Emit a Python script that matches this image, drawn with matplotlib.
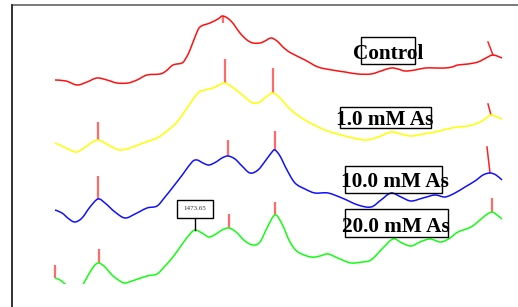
import numpy as np
import matplotlib
matplotlib.use("Agg")
import matplotlib.pyplot as plt
from matplotlib.patches import Rectangle, PathPatch
from matplotlib.path import Path

# wavenumber (cm-1) / intensity (a.u., traces already offset)
red_x = [1194, 1216, 1238, 1258, 1278, 1298, 1318, 1340, 1358, 1378, 1404, 1416, 1430, 1448, 1456, 1464,
         1474, 1484, 1504, 1520, 1530, 1546, 1564, 1578, 1590, 1604, 1614, 1626, 1638, 1652, 1666, 1694,
         1720, 1748, 1774, 1800, 1826, 1846, 1866, 1880, 1894, 1914, 1934, 1954, 1974, 1988, 2000, 2020,
         2040, 2056, 2070, 2088]
red_y = [220, 219, 215, 218, 222, 220, 217, 217, 220, 225, 226, 229, 235, 237, 242, 250,
         263, 273, 277, 281, 284, 279, 267, 260, 257, 257, 259, 262, 259, 252, 247, 240,
         233, 230, 228, 226, 226, 229, 232, 231, 229, 230, 232, 232, 232, 233, 235, 236,
         238, 242, 245, 242]

yel_x = [1194, 1208, 1224, 1238, 1252, 1266, 1280, 1294, 1308, 1324, 1344, 1370, 1398, 1418, 1438, 1458,
         1480, 1494, 1510, 1522, 1534, 1548, 1564, 1578, 1590, 1604, 1616, 1630, 1644, 1666, 1694, 1734,
         1774, 1814, 1840, 1866, 1886, 1906, 1930, 1954, 1978, 2000, 2020, 2040, 2054, 2066, 2078, 2088]
yel_y = [157, 154, 150, 148, 152, 157, 160, 157, 153, 150, 152, 157, 162, 169, 178, 192,
         207, 210, 212, 215, 217, 213, 207, 201, 197, 198, 203, 207, 202, 190, 180, 170,
         164, 160, 163, 168, 166, 164, 166, 168, 171, 173, 174, 177, 181, 185, 183, 181]

blu_x = [1194, 1208, 1222, 1234, 1248, 1264, 1280, 1294, 1314, 1334, 1354, 1378, 1398, 1414, 1430, 1450,
         1468, 1478, 1490, 1502, 1516, 1528, 1540, 1554, 1568, 1584, 1600, 1616, 1628, 1634, 1644, 1658,
         1674, 1694, 1714, 1740, 1768, 1800, 1826, 1846, 1866, 1886, 1906, 1930, 1954, 1974, 1994, 2014,
         2034, 2050, 2064, 2076, 2088]
blu_y = [90, 87, 81, 78, 82, 93, 101, 97, 88, 82, 86, 92, 94, 103, 113, 126,
         138, 140, 137, 135, 138, 142, 144, 141, 134, 127, 130, 140, 148, 150, 144, 130,
         117, 111, 107, 107, 102, 95, 93, 100, 107, 103, 99, 102, 105, 103, 107, 113,
         119, 125, 127, 125, 120]

grn_x = [1194, 1204, 1214, 1224, 1234, 1244, 1254, 1264, 1274, 1282, 1294, 1308, 1324, 1334, 1354, 1378,
         1398, 1414, 1430, 1450, 1464, 1474, 1488, 1502, 1516, 1528, 1542, 1556, 1574, 1590, 1604, 1618,
         1634, 1648, 1664, 1680, 1706, 1724, 1740, 1764, 1786, 1808, 1826, 1848, 1870, 1888, 1906, 1924,
         1944, 1966, 1984, 2000, 2026, 2044, 2056, 2068, 2078, 2088]
grn_y = [22, 20, 16, 10, 8, 11, 19, 28, 35, 37, 33, 25, 19, 17, 20, 24,
         26, 34, 43, 57, 66, 70, 67, 63, 66, 70, 72, 68, 59, 55, 58, 72,
         85, 76, 58, 48, 43, 44, 46, 41, 37, 38, 40, 51, 61, 57, 54, 58,
         61, 58, 62, 68, 73, 80, 85, 88, 85, 81]

# picked peaks: (x, y at peak, y at tick end)
red_peaks = [(1530, 284, 277)]
yel_peaks = [(1280, 160, 178), (1534, 217, 241), (1630, 207, 232)]
blu_peaks = [(1280, 101, 124), (1540, 144, 160), (1634, 150, 169)]
grn_peaks = [(1194, 22, 35), (1282, 37, 51), (1542, 72, 86), (1634, 85, 98), (2068, 88, 102)]
# slanted end markers
end_marks = [((2070, 245), (2060, 258)), ((2066, 185), (2060, 196)), ((2064, 127), (2058, 153))]

labels = ["Control", "1.0 mM As", "10.0 mM As", "20.0 mM As"]


def smooth(x, y):
    # catmull-rom through the read points, drawn as bezier segments
    p = np.column_stack([x, y]).astype(float)
    n = len(p)
    verts = [p[0]]
    codes = [Path.MOVETO]
    for i in range(n - 1):
        p0 = p[max(i - 1, 0)]
        p1 = p[i]
        p2 = p[i + 1]
        p3 = p[min(i + 2, n - 1)]
        verts += [p1 + (p2 - p0) / 6, p2 - (p3 - p1) / 6, p2]
        codes += [Path.CURVE4] * 3
    return Path(verts, codes)


fig = plt.figure(figsize=(5.18, 3.07), dpi=100)
ax = fig.add_axes([0, 23 / 307, 1, 284 / 307])
ax.set_xlim(1084, 2120)
ax.set_ylim(16, 300)
ax.axis("off")

# frame
fig.add_artist(Rectangle((11.5 / 518, -0.2), 1.5, 1.2 - 4.5 / 307, transform=fig.transFigure,
                         fill=False, edgecolor="#707070", linewidth=1.3))
fig.add_artist(plt.Line2D([11.5 / 518, 11.5 / 518], [0, 1 - 4.5 / 307], transform=fig.transFigure,
                          color="#303030", linewidth=1.3))

tick_col = "#ff6a6a"
for px, y0, y1 in red_peaks + yel_peaks + blu_peaks + grn_peaks:
    ax.plot([px, px], [y0, y1], color=tick_col, lw=1.6, solid_capstyle="butt", zorder=1)
for (a, b) in end_marks:
    ax.plot([a[0], b[0]], [a[1], b[1]], color="#ff2020", lw=1.1, zorder=1)

for xs, ys, col in [(red_x, red_y, "#ff1010"), (yel_x, yel_y, "#ffff00"),
                    (blu_x, blu_y, "#1010ff"), (grn_x, grn_y, "#10ff10")]:
    ax.add_patch(PathPatch(smooth(xs, ys), fill=False, edgecolor=col, lw=1.1, zorder=2))

# label boxes and text
boxes = [(1806, 236, 108, 27), (1764, 172, 182, 21), (1774, 107, 194, 27), (1774, 63, 206, 28)]
text_pos = [(1860, 241), (1853, 175), (1873, 113), (1876, 68)]
for (bx, by, bw, bh), (tx, ty), lab in zip(boxes, text_pos, labels):
    ax.add_patch(Rectangle((bx, by), bw, bh, fill=False, edgecolor="black", lw=1.0, zorder=3))
    ax.text(tx, ty, lab, ha="center", va="baseline", fontsize=15.3, fontweight="bold",
            family="Liberation Serif", color="black", zorder=4)

# peak annotation
ax.plot([1474, 1474], [70, 83], color="black", lw=1.0, zorder=3)
ax.text(1474, 91, "1473.65", ha="center", va="center", fontsize=5, family="Liberation Serif",
        color="#333333", zorder=4,
        bbox=dict(boxstyle="square,pad=0.9", facecolor="white", edgecolor="black", lw=1.0))

fig.savefig("out.png", dpi=100)
